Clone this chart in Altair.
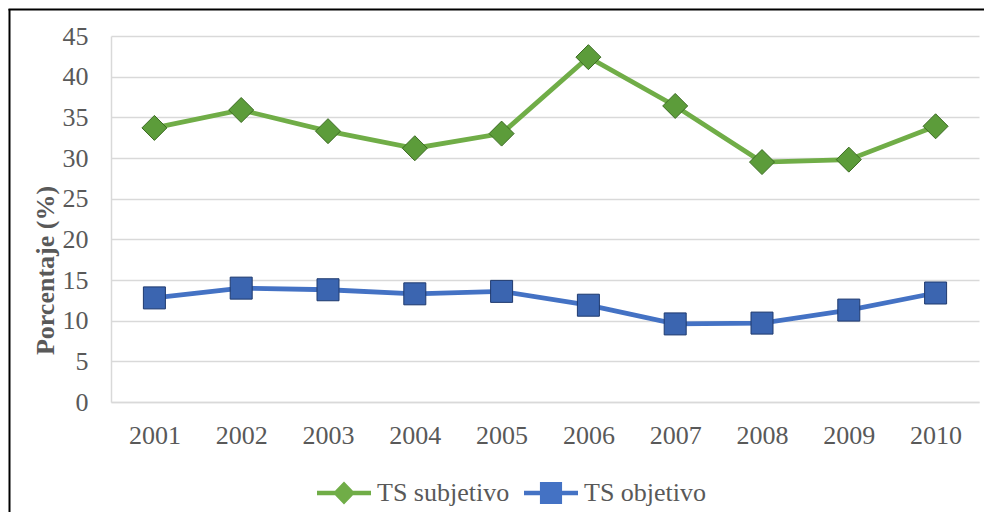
import altair as alt
import pandas as pd

years = ["2001", "2002", "2003", "2004", "2005", "2006", "2007", "2008", "2009", "2010"]
series_names = ["TS subjetivo", "TS objetivo"]
ts_subjetivo = [33.7, 35.9, 33.3, 31.2, 33.0, 42.4, 36.4, 29.5, 29.8, 33.9]
ts_objetivo = [12.8, 14.0, 13.8, 13.3, 13.6, 11.9, 9.6, 9.7, 11.3, 13.4]
y_ticks = [0, 5, 10, 15, 20, 25, 30, 35, 40, 45]

line_colors = ["#70AD47", "#4472C4"]
marker_fill = ["#5C9C3A", "#3B65B0"]
marker_stroke = ["#3B6B22", "#1F3A6E"]
marker_shapes = ["diamond", "square"]
marker_sizes = [625, 484]
legend_shapes = [
    "M-1,-0.08H1V0.08H-1Z M0,-0.43L0.41,0L0,0.43L-0.41,0Z",
    "M-1,-0.08H1V0.08H-1Z M-0.41,-0.41H0.41V0.41H-0.41Z",
]

rows = []
for name, vals in zip(series_names, [ts_subjetivo, ts_objetivo]):
    for yr, v in zip(years, vals):
        rows.append({"year": yr, "value": v, "series": name})
df = pd.DataFrame(rows)

FONT = "Liberation Serif"
GRAY = "#595959"

x_enc = alt.X("year:O", sort=years,
              scale=alt.Scale(type="point", padding=0.5),
              axis=alt.Axis(title=None, labelAngle=0, labelFont=FONT, labelFontSize=26,
                            labelColor=GRAY, labelPadding=20, ticks=False,
                            domainColor="#D9D9D9", domainWidth=1.5, grid=False))
y_enc = alt.Y("value:Q", scale=alt.Scale(domain=[0, 45], nice=False, zero=True),
              axis=alt.Axis(values=y_ticks, title="Porcentaje (%)", titleFont=FONT,
                            titleFontSize=26, titleFontWeight="bold", titleColor=GRAY,
                            titleX=-66, titleY=234, titleAngle=270, titleBaseline="middle",
                            titleAlign="center",
                            labelFont=FONT, labelFontSize=26, labelColor=GRAY,
                            labelPadding=23, ticks=False, gridColor="#D9D9D9",
                            gridWidth=1.5, domainColor="#D9D9D9", domainWidth=1.5))

base = alt.Chart(df)

lines = base.mark_line(strokeWidth=4.8).encode(
    x=x_enc, y=y_enc,
    color=alt.Color("series:N", scale=alt.Scale(domain=series_names, range=line_colors), legend=None),
    detail="series:N",
)

points = base.mark_point(filled=True, opacity=1, strokeWidth=1).encode(
    x=x_enc, y=y_enc,
    fill=alt.Fill("series:N", scale=alt.Scale(domain=series_names, range=marker_fill), legend=None),
    stroke=alt.Stroke("series:N", scale=alt.Scale(domain=series_names, range=marker_stroke), legend=None),
    shape=alt.Shape("series:N", scale=alt.Scale(domain=series_names, range=marker_shapes), legend=None),
    size=alt.Size("series:N", scale=alt.Scale(domain=series_names, range=marker_sizes), legend=None),
)

legend_kw = dict(title=None, orient="none", legendX=206, legendY=430, direction="horizontal",
                 labelFont=FONT, labelFontSize=26, labelColor=GRAY, symbolSize=2916,
                 labelOffset=6, columnPadding=14, padding=0, symbolStrokeWidth=0,
                 labelLimit=300)

legend_layer = base.transform_filter("false").mark_point(filled=True, opacity=1).encode(
    color=alt.Color("series:N", scale=alt.Scale(domain=series_names, range=line_colors),
                    legend=alt.Legend(**legend_kw)),
    shape=alt.Shape("series:N", scale=alt.Scale(domain=series_names, range=legend_shapes),
                    legend=alt.Legend(**legend_kw)),
)

border_df = pd.DataFrame({"k": [0]})
border_left = alt.Chart(border_df).mark_rule(color="black", strokeWidth=2).encode(
    x=alt.value(-101.5), y=alt.value(-27), y2=alt.value(490))
border_top = alt.Chart(border_df).mark_rule(color="black", strokeWidth=2).encode(
    x=alt.value(-102.5), x2=alt.value(880), y=alt.value(-26.5))

chart = alt.layer(lines, points, legend_layer, border_left, border_top).resolve_scale(
    color="independent", shape="independent", size="independent"
).properties(
    width=868, height=366,
    padding={"left": 103, "top": 28, "right": 5, "bottom": 110},
    autosize=alt.AutoSizeParams(type="none"),
).configure_view(stroke=None)

chart.save("out.html", embed_options={"renderer": "svg", "actions": False})
